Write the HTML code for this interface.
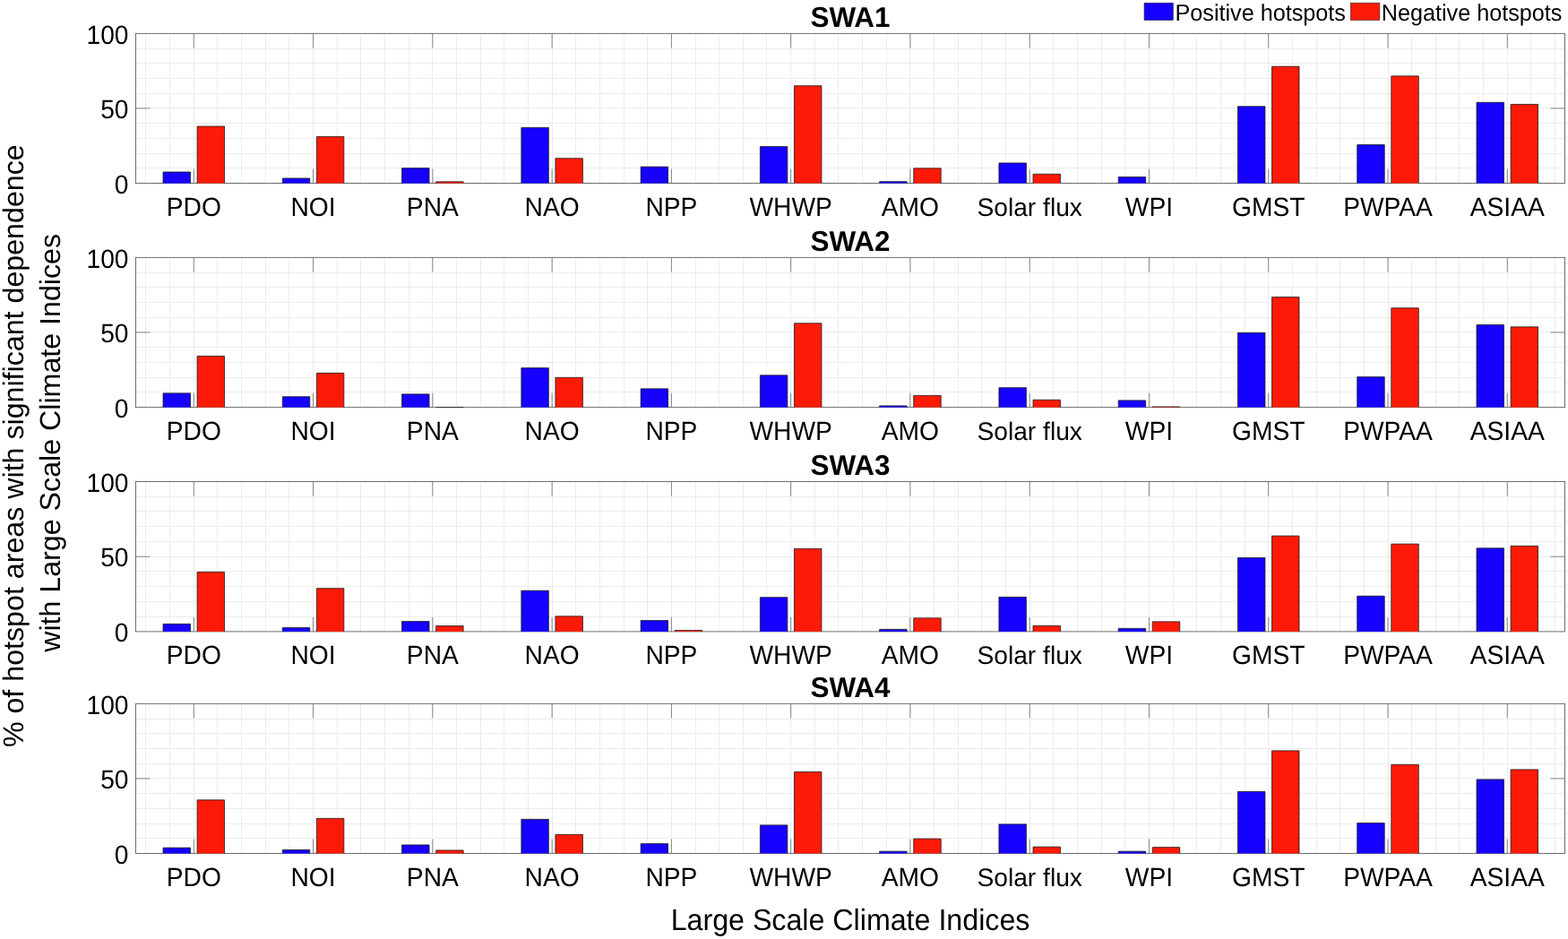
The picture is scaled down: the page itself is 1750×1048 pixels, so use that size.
<!DOCTYPE html>
<html><head><meta charset="utf-8"><title>SWA hotspots</title>
<style>
html,body{margin:0;padding:0;background:#fff;}
body{width:1750px;height:1048px;overflow:hidden;}
svg{display:block;}
text{font-family:'Liberation Sans', Arial, Helvetica, sans-serif;fill:#000;text-rendering:geometricPrecision;}
.tk{font-size:28.2px;}
.ti{font-size:31.4px;font-weight:bold;}
.lg{font-size:25.2px;}
.al{font-size:32.2px;}
</style></head><body>
<svg width="1750" height="1048" viewBox="0 0 1750 1048">
<rect width="1750" height="1048" fill="#fff"/>
<path d="M162.50 37.40V204.50M189.50 37.40V204.50M216.50 37.40V204.50M242.50 37.40V204.50M269.50 37.40V204.50M296.50 37.40V204.50M322.50 37.40V204.50M349.50 37.40V204.50M376.50 37.40V204.50M402.50 37.40V204.50M429.50 37.40V204.50M456.50 37.40V204.50M482.50 37.40V204.50M509.50 37.40V204.50M536.50 37.40V204.50M562.50 37.40V204.50M589.50 37.40V204.50M616.50 37.40V204.50M642.50 37.40V204.50M669.50 37.40V204.50M696.50 37.40V204.50M722.50 37.40V204.50M749.50 37.40V204.50M776.50 37.40V204.50M802.50 37.40V204.50M829.50 37.40V204.50M855.50 37.40V204.50M882.50 37.40V204.50M909.50 37.40V204.50M935.50 37.40V204.50M962.50 37.40V204.50M989.50 37.40V204.50M1015.50 37.40V204.50M1042.50 37.40V204.50M1069.50 37.40V204.50M1095.50 37.40V204.50M1122.50 37.40V204.50M1149.50 37.40V204.50M1175.50 37.40V204.50M1202.50 37.40V204.50M1229.50 37.40V204.50M1255.50 37.40V204.50M1282.50 37.40V204.50M1309.50 37.40V204.50M1335.50 37.40V204.50M1362.50 37.40V204.50M1389.50 37.40V204.50M1415.50 37.40V204.50M1442.50 37.40V204.50M1469.50 37.40V204.50M1495.50 37.40V204.50M1522.50 37.40V204.50M1549.50 37.40V204.50M1575.50 37.40V204.50M1602.50 37.40V204.50M1628.50 37.40V204.50M1655.50 37.40V204.50M1682.50 37.40V204.50M1708.50 37.40V204.50M1735.50 37.40V204.50M151.50 187.50H1746.50M151.50 171.50H1746.50M151.50 154.50H1746.50M151.50 137.50H1746.50M151.50 120.50H1746.50M151.50 104.50H1746.50M151.50 87.50H1746.50M151.50 70.50H1746.50M151.50 54.50H1746.50" stroke="#ececec" stroke-width="1" fill="none"/>
<path d="M216.30 204.50V188.50M216.30 37.40V53.40M349.57 204.50V188.50M349.57 37.40V53.40M482.84 204.50V188.50M482.84 37.40V53.40M616.11 204.50V188.50M616.11 37.40V53.40M749.38 204.50V188.50M749.38 37.40V53.40M882.65 204.50V188.50M882.65 37.40V53.40M1015.92 204.50V188.50M1015.92 37.40V53.40M1149.19 204.50V188.50M1149.19 37.40V53.40M1282.46 204.50V188.50M1282.46 37.40V53.40M1415.73 204.50V188.50M1415.73 37.40V53.40M1549.00 204.50V188.50M1549.00 37.40V53.40M1682.27 204.50V188.50M1682.27 37.40V53.40M151.50 120.95H167.50M1746.50 120.95H1730.50" stroke="#838383" stroke-width="1" fill="none"/>
<rect x="151.5" y="37.4" width="1595.0" height="167.1" stroke="#6e6e6e" stroke-width="1" fill="none"/>
<rect x="182.03" y="191.97" width="30.46" height="12.53" fill="#1600ff"/><rect x="220.11" y="141.00" width="30.46" height="63.50" fill="#ff1a08"/><rect x="315.30" y="198.99" width="30.46" height="5.51" fill="#1600ff"/><rect x="353.38" y="152.53" width="30.46" height="51.97" fill="#ff1a08"/><rect x="448.57" y="187.62" width="30.46" height="16.88" fill="#1600ff"/><rect x="486.65" y="202.83" width="30.46" height="1.67" fill="#ff1a08"/><rect x="581.84" y="142.34" width="30.46" height="62.16" fill="#1600ff"/><rect x="619.92" y="176.76" width="30.46" height="27.74" fill="#ff1a08"/><rect x="715.11" y="186.12" width="30.46" height="18.38" fill="#1600ff"/><rect x="848.38" y="163.56" width="30.46" height="40.94" fill="#1600ff"/><rect x="886.46" y="95.72" width="30.46" height="108.78" fill="#ff1a08"/><rect x="981.65" y="202.66" width="30.46" height="1.84" fill="#1600ff"/><rect x="1019.73" y="187.79" width="30.46" height="16.71" fill="#ff1a08"/><rect x="1114.92" y="181.94" width="30.46" height="22.56" fill="#1600ff"/><rect x="1153.00" y="194.31" width="30.46" height="10.19" fill="#ff1a08"/><rect x="1248.19" y="197.48" width="30.46" height="7.02" fill="#1600ff"/><rect x="1381.46" y="118.78" width="30.46" height="85.72" fill="#1600ff"/><rect x="1419.54" y="74.16" width="30.46" height="130.34" fill="#ff1a08"/><rect x="1514.73" y="161.56" width="30.46" height="42.94" fill="#1600ff"/><rect x="1552.81" y="84.86" width="30.46" height="119.64" fill="#ff1a08"/><rect x="1648.00" y="114.27" width="30.46" height="90.23" fill="#1600ff"/><rect x="1686.08" y="116.44" width="30.46" height="88.06" fill="#ff1a08"/>
<path d="M182.03 204.50V191.97H212.49V204.50M220.11 204.50V141.00H250.57V204.50M315.30 204.50V198.99H345.76V204.50M353.38 204.50V152.53H383.84V204.50M448.57 204.50V187.62H479.03V204.50M486.65 204.50V202.83H517.11V204.50M581.84 204.50V142.34H612.30V204.50M619.92 204.50V176.76H650.38V204.50M715.11 204.50V186.12H745.57V204.50M848.38 204.50V163.56H878.84V204.50M886.46 204.50V95.72H916.92V204.50M981.65 204.50V202.66H1012.11V204.50M1019.73 204.50V187.79H1050.19V204.50M1114.92 204.50V181.94H1145.38V204.50M1153.00 204.50V194.31H1183.46V204.50M1248.19 204.50V197.48H1278.65V204.50M1381.46 204.50V118.78H1411.92V204.50M1419.54 204.50V74.16H1450.00V204.50M1514.73 204.50V161.56H1545.19V204.50M1552.81 204.50V84.86H1583.27V204.50M1648.00 204.50V114.27H1678.46V204.50M1686.08 204.50V116.44H1716.54V204.50" stroke="#1a1a1a" stroke-width="0.8" fill="none"/>
<text transform="translate(143.50 215.60) scale(1 1.045)" text-anchor="end" class="tk">0</text>
<text transform="translate(143.50 132.05) scale(1 1.045)" text-anchor="end" class="tk">50</text>
<text transform="translate(143.50 48.50) scale(1 1.045)" text-anchor="end" class="tk">100</text>
<text transform="translate(216.30 240.50) scale(1 1.045)" text-anchor="middle" class="tk">PDO</text>
<text transform="translate(349.57 240.50) scale(1 1.045)" text-anchor="middle" class="tk">NOI</text>
<text transform="translate(482.84 240.50) scale(1 1.045)" text-anchor="middle" class="tk">PNA</text>
<text transform="translate(616.11 240.50) scale(1 1.045)" text-anchor="middle" class="tk">NAO</text>
<text transform="translate(749.38 240.50) scale(1 1.045)" text-anchor="middle" class="tk">NPP</text>
<text transform="translate(882.65 240.50) scale(1 1.045)" text-anchor="middle" class="tk">WHWP</text>
<text transform="translate(1015.92 240.50) scale(1 1.045)" text-anchor="middle" class="tk">AMO</text>
<text x="1149.19" y="240.50" text-anchor="middle" class="tk">Solar flux</text>
<text transform="translate(1282.46 240.50) scale(1 1.045)" text-anchor="middle" class="tk">WPI</text>
<text transform="translate(1415.73 240.50) scale(1 1.045)" text-anchor="middle" class="tk">GMST</text>
<text transform="translate(1549.00 240.50) scale(1 1.045)" text-anchor="middle" class="tk">PWPAA</text>
<text transform="translate(1682.27 240.50) scale(1 1.045)" text-anchor="middle" class="tk">ASIAA</text>
<text transform="translate(949.00 30.10) scale(1 1.01)" text-anchor="middle" class="ti">SWA1</text>
<path d="M162.50 287.40V454.60M189.50 287.40V454.60M216.50 287.40V454.60M242.50 287.40V454.60M269.50 287.40V454.60M296.50 287.40V454.60M322.50 287.40V454.60M349.50 287.40V454.60M376.50 287.40V454.60M402.50 287.40V454.60M429.50 287.40V454.60M456.50 287.40V454.60M482.50 287.40V454.60M509.50 287.40V454.60M536.50 287.40V454.60M562.50 287.40V454.60M589.50 287.40V454.60M616.50 287.40V454.60M642.50 287.40V454.60M669.50 287.40V454.60M696.50 287.40V454.60M722.50 287.40V454.60M749.50 287.40V454.60M776.50 287.40V454.60M802.50 287.40V454.60M829.50 287.40V454.60M855.50 287.40V454.60M882.50 287.40V454.60M909.50 287.40V454.60M935.50 287.40V454.60M962.50 287.40V454.60M989.50 287.40V454.60M1015.50 287.40V454.60M1042.50 287.40V454.60M1069.50 287.40V454.60M1095.50 287.40V454.60M1122.50 287.40V454.60M1149.50 287.40V454.60M1175.50 287.40V454.60M1202.50 287.40V454.60M1229.50 287.40V454.60M1255.50 287.40V454.60M1282.50 287.40V454.60M1309.50 287.40V454.60M1335.50 287.40V454.60M1362.50 287.40V454.60M1389.50 287.40V454.60M1415.50 287.40V454.60M1442.50 287.40V454.60M1469.50 287.40V454.60M1495.50 287.40V454.60M1522.50 287.40V454.60M1549.50 287.40V454.60M1575.50 287.40V454.60M1602.50 287.40V454.60M1628.50 287.40V454.60M1655.50 287.40V454.60M1682.50 287.40V454.60M1708.50 287.40V454.60M1735.50 287.40V454.60M151.50 437.50H1746.50M151.50 421.50H1746.50M151.50 404.50H1746.50M151.50 387.50H1746.50M151.50 370.50H1746.50M151.50 354.50H1746.50M151.50 337.50H1746.50M151.50 320.50H1746.50M151.50 304.50H1746.50" stroke="#ececec" stroke-width="1" fill="none"/>
<path d="M216.30 454.60V438.60M216.30 287.40V303.40M349.57 454.60V438.60M349.57 287.40V303.40M482.84 454.60V438.60M482.84 287.40V303.40M616.11 454.60V438.60M616.11 287.40V303.40M749.38 454.60V438.60M749.38 287.40V303.40M882.65 454.60V438.60M882.65 287.40V303.40M1015.92 454.60V438.60M1015.92 287.40V303.40M1149.19 454.60V438.60M1149.19 287.40V303.40M1282.46 454.60V438.60M1282.46 287.40V303.40M1415.73 454.60V438.60M1415.73 287.40V303.40M1549.00 454.60V438.60M1549.00 287.40V303.40M1682.27 454.60V438.60M1682.27 287.40V303.40M151.50 371.00H167.50M1746.50 371.00H1730.50" stroke="#838383" stroke-width="1" fill="none"/>
<rect x="151.5" y="287.4" width="1595.0" height="167.20000000000005" stroke="#6e6e6e" stroke-width="1" fill="none"/>
<rect x="182.03" y="438.90" width="30.46" height="15.70" fill="#1600ff"/><rect x="220.11" y="397.43" width="30.46" height="57.17" fill="#ff1a08"/><rect x="315.30" y="442.74" width="30.46" height="11.86" fill="#1600ff"/><rect x="353.38" y="416.33" width="30.46" height="38.27" fill="#ff1a08"/><rect x="448.57" y="439.90" width="30.46" height="14.70" fill="#1600ff"/><rect x="486.65" y="454.50" width="30.46" height="0.10" fill="#ff1a08"/><rect x="581.84" y="410.64" width="30.46" height="43.96" fill="#1600ff"/><rect x="619.92" y="421.34" width="30.46" height="33.26" fill="#ff1a08"/><rect x="715.11" y="433.88" width="30.46" height="20.72" fill="#1600ff"/><rect x="848.38" y="418.83" width="30.46" height="35.77" fill="#1600ff"/><rect x="886.46" y="360.82" width="30.46" height="93.78" fill="#ff1a08"/><rect x="981.65" y="452.94" width="30.46" height="1.66" fill="#1600ff"/><rect x="1019.73" y="441.41" width="30.46" height="13.19" fill="#ff1a08"/><rect x="1114.92" y="432.71" width="30.46" height="21.89" fill="#1600ff"/><rect x="1153.00" y="446.26" width="30.46" height="8.34" fill="#ff1a08"/><rect x="1248.19" y="446.92" width="30.46" height="7.68" fill="#1600ff"/><rect x="1286.27" y="453.95" width="30.46" height="0.65" fill="#ff1a08"/><rect x="1381.46" y="371.35" width="30.46" height="83.25" fill="#1600ff"/><rect x="1419.54" y="331.56" width="30.46" height="123.04" fill="#ff1a08"/><rect x="1514.73" y="420.67" width="30.46" height="33.93" fill="#1600ff"/><rect x="1552.81" y="343.76" width="30.46" height="110.84" fill="#ff1a08"/><rect x="1648.00" y="362.49" width="30.46" height="92.11" fill="#1600ff"/><rect x="1686.08" y="364.83" width="30.46" height="89.77" fill="#ff1a08"/>
<path d="M182.03 454.60V438.90H212.49V454.60M220.11 454.60V397.43H250.57V454.60M315.30 454.60V442.74H345.76V454.60M353.38 454.60V416.33H383.84V454.60M448.57 454.60V439.90H479.03V454.60M486.65 454.60V454.50H517.11V454.60M581.84 454.60V410.64H612.30V454.60M619.92 454.60V421.34H650.38V454.60M715.11 454.60V433.88H745.57V454.60M848.38 454.60V418.83H878.84V454.60M886.46 454.60V360.82H916.92V454.60M981.65 454.60V452.94H1012.11V454.60M1019.73 454.60V441.41H1050.19V454.60M1114.92 454.60V432.71H1145.38V454.60M1153.00 454.60V446.26H1183.46V454.60M1248.19 454.60V446.92H1278.65V454.60M1286.27 454.60V453.95H1316.73V454.60M1381.46 454.60V371.35H1411.92V454.60M1419.54 454.60V331.56H1450.00V454.60M1514.73 454.60V420.67H1545.19V454.60M1552.81 454.60V343.76H1583.27V454.60M1648.00 454.60V362.49H1678.46V454.60M1686.08 454.60V364.83H1716.54V454.60" stroke="#1a1a1a" stroke-width="0.8" fill="none"/>
<text transform="translate(143.50 465.70) scale(1 1.045)" text-anchor="end" class="tk">0</text>
<text transform="translate(143.50 382.10) scale(1 1.045)" text-anchor="end" class="tk">50</text>
<text transform="translate(143.50 298.50) scale(1 1.045)" text-anchor="end" class="tk">100</text>
<text transform="translate(216.30 490.60) scale(1 1.045)" text-anchor="middle" class="tk">PDO</text>
<text transform="translate(349.57 490.60) scale(1 1.045)" text-anchor="middle" class="tk">NOI</text>
<text transform="translate(482.84 490.60) scale(1 1.045)" text-anchor="middle" class="tk">PNA</text>
<text transform="translate(616.11 490.60) scale(1 1.045)" text-anchor="middle" class="tk">NAO</text>
<text transform="translate(749.38 490.60) scale(1 1.045)" text-anchor="middle" class="tk">NPP</text>
<text transform="translate(882.65 490.60) scale(1 1.045)" text-anchor="middle" class="tk">WHWP</text>
<text transform="translate(1015.92 490.60) scale(1 1.045)" text-anchor="middle" class="tk">AMO</text>
<text x="1149.19" y="490.60" text-anchor="middle" class="tk">Solar flux</text>
<text transform="translate(1282.46 490.60) scale(1 1.045)" text-anchor="middle" class="tk">WPI</text>
<text transform="translate(1415.73 490.60) scale(1 1.045)" text-anchor="middle" class="tk">GMST</text>
<text transform="translate(1549.00 490.60) scale(1 1.045)" text-anchor="middle" class="tk">PWPAA</text>
<text transform="translate(1682.27 490.60) scale(1 1.045)" text-anchor="middle" class="tk">ASIAA</text>
<text transform="translate(949.00 280.10) scale(1 1.01)" text-anchor="middle" class="ti">SWA2</text>
<path d="M162.50 537.50V704.90M189.50 537.50V704.90M216.50 537.50V704.90M242.50 537.50V704.90M269.50 537.50V704.90M296.50 537.50V704.90M322.50 537.50V704.90M349.50 537.50V704.90M376.50 537.50V704.90M402.50 537.50V704.90M429.50 537.50V704.90M456.50 537.50V704.90M482.50 537.50V704.90M509.50 537.50V704.90M536.50 537.50V704.90M562.50 537.50V704.90M589.50 537.50V704.90M616.50 537.50V704.90M642.50 537.50V704.90M669.50 537.50V704.90M696.50 537.50V704.90M722.50 537.50V704.90M749.50 537.50V704.90M776.50 537.50V704.90M802.50 537.50V704.90M829.50 537.50V704.90M855.50 537.50V704.90M882.50 537.50V704.90M909.50 537.50V704.90M935.50 537.50V704.90M962.50 537.50V704.90M989.50 537.50V704.90M1015.50 537.50V704.90M1042.50 537.50V704.90M1069.50 537.50V704.90M1095.50 537.50V704.90M1122.50 537.50V704.90M1149.50 537.50V704.90M1175.50 537.50V704.90M1202.50 537.50V704.90M1229.50 537.50V704.90M1255.50 537.50V704.90M1282.50 537.50V704.90M1309.50 537.50V704.90M1335.50 537.50V704.90M1362.50 537.50V704.90M1389.50 537.50V704.90M1415.50 537.50V704.90M1442.50 537.50V704.90M1469.50 537.50V704.90M1495.50 537.50V704.90M1522.50 537.50V704.90M1549.50 537.50V704.90M1575.50 537.50V704.90M1602.50 537.50V704.90M1628.50 537.50V704.90M1655.50 537.50V704.90M1682.50 537.50V704.90M1708.50 537.50V704.90M1735.50 537.50V704.90M151.50 688.50H1746.50M151.50 671.50H1746.50M151.50 654.50H1746.50M151.50 637.50H1746.50M151.50 621.50H1746.50M151.50 604.50H1746.50M151.50 587.50H1746.50M151.50 570.50H1746.50M151.50 554.50H1746.50" stroke="#ececec" stroke-width="1" fill="none"/>
<path d="M216.30 704.90V688.90M216.30 537.50V553.50M349.57 704.90V688.90M349.57 537.50V553.50M482.84 704.90V688.90M482.84 537.50V553.50M616.11 704.90V688.90M616.11 537.50V553.50M749.38 704.90V688.90M749.38 537.50V553.50M882.65 704.90V688.90M882.65 537.50V553.50M1015.92 704.90V688.90M1015.92 537.50V553.50M1149.19 704.90V688.90M1149.19 537.50V553.50M1282.46 704.90V688.90M1282.46 537.50V553.50M1415.73 704.90V688.90M1415.73 537.50V553.50M1549.00 704.90V688.90M1549.00 537.50V553.50M1682.27 704.90V688.90M1682.27 537.50V553.50M151.50 621.20H167.50M1746.50 621.20H1730.50" stroke="#838383" stroke-width="1" fill="none"/>
<rect x="151.5" y="537.5" width="1595.0" height="167.39999999999998" stroke="#6e6e6e" stroke-width="1" fill="none"/>
<rect x="182.03" y="696.35" width="30.46" height="8.55" fill="#1600ff"/><rect x="220.11" y="638.42" width="30.46" height="66.48" fill="#ff1a08"/><rect x="315.30" y="700.53" width="30.46" height="4.37" fill="#1600ff"/><rect x="353.38" y="656.67" width="30.46" height="48.23" fill="#ff1a08"/><rect x="448.57" y="693.50" width="30.46" height="11.40" fill="#1600ff"/><rect x="486.65" y="698.52" width="30.46" height="6.38" fill="#ff1a08"/><rect x="581.84" y="659.18" width="30.46" height="45.72" fill="#1600ff"/><rect x="619.92" y="687.81" width="30.46" height="17.09" fill="#ff1a08"/><rect x="715.11" y="692.50" width="30.46" height="12.40" fill="#1600ff"/><rect x="753.19" y="703.54" width="30.46" height="1.36" fill="#ff1a08"/><rect x="848.38" y="666.72" width="30.46" height="38.18" fill="#1600ff"/><rect x="886.46" y="612.31" width="30.46" height="92.59" fill="#ff1a08"/><rect x="981.65" y="702.37" width="30.46" height="2.53" fill="#1600ff"/><rect x="1019.73" y="689.82" width="30.46" height="15.08" fill="#ff1a08"/><rect x="1114.92" y="666.38" width="30.46" height="38.52" fill="#1600ff"/><rect x="1153.00" y="698.35" width="30.46" height="6.55" fill="#ff1a08"/><rect x="1248.19" y="701.37" width="30.46" height="3.53" fill="#1600ff"/><rect x="1286.27" y="693.83" width="30.46" height="11.07" fill="#ff1a08"/><rect x="1381.46" y="622.52" width="30.46" height="82.38" fill="#1600ff"/><rect x="1419.54" y="598.08" width="30.46" height="106.82" fill="#ff1a08"/><rect x="1514.73" y="665.21" width="30.46" height="39.69" fill="#1600ff"/><rect x="1552.81" y="607.12" width="30.46" height="97.78" fill="#ff1a08"/><rect x="1648.00" y="611.81" width="30.46" height="93.09" fill="#1600ff"/><rect x="1686.08" y="609.30" width="30.46" height="95.60" fill="#ff1a08"/>
<path d="M182.03 704.90V696.35H212.49V704.90M220.11 704.90V638.42H250.57V704.90M315.30 704.90V700.53H345.76V704.90M353.38 704.90V656.67H383.84V704.90M448.57 704.90V693.50H479.03V704.90M486.65 704.90V698.52H517.11V704.90M581.84 704.90V659.18H612.30V704.90M619.92 704.90V687.81H650.38V704.90M715.11 704.90V692.50H745.57V704.90M753.19 704.90V703.54H783.65V704.90M848.38 704.90V666.72H878.84V704.90M886.46 704.90V612.31H916.92V704.90M981.65 704.90V702.37H1012.11V704.90M1019.73 704.90V689.82H1050.19V704.90M1114.92 704.90V666.38H1145.38V704.90M1153.00 704.90V698.35H1183.46V704.90M1248.19 704.90V701.37H1278.65V704.90M1286.27 704.90V693.83H1316.73V704.90M1381.46 704.90V622.52H1411.92V704.90M1419.54 704.90V598.08H1450.00V704.90M1514.73 704.90V665.21H1545.19V704.90M1552.81 704.90V607.12H1583.27V704.90M1648.00 704.90V611.81H1678.46V704.90M1686.08 704.90V609.30H1716.54V704.90" stroke="#1a1a1a" stroke-width="0.8" fill="none"/>
<text transform="translate(143.50 716.00) scale(1 1.045)" text-anchor="end" class="tk">0</text>
<text transform="translate(143.50 632.30) scale(1 1.045)" text-anchor="end" class="tk">50</text>
<text transform="translate(143.50 548.60) scale(1 1.045)" text-anchor="end" class="tk">100</text>
<text transform="translate(216.30 740.90) scale(1 1.045)" text-anchor="middle" class="tk">PDO</text>
<text transform="translate(349.57 740.90) scale(1 1.045)" text-anchor="middle" class="tk">NOI</text>
<text transform="translate(482.84 740.90) scale(1 1.045)" text-anchor="middle" class="tk">PNA</text>
<text transform="translate(616.11 740.90) scale(1 1.045)" text-anchor="middle" class="tk">NAO</text>
<text transform="translate(749.38 740.90) scale(1 1.045)" text-anchor="middle" class="tk">NPP</text>
<text transform="translate(882.65 740.90) scale(1 1.045)" text-anchor="middle" class="tk">WHWP</text>
<text transform="translate(1015.92 740.90) scale(1 1.045)" text-anchor="middle" class="tk">AMO</text>
<text x="1149.19" y="740.90" text-anchor="middle" class="tk">Solar flux</text>
<text transform="translate(1282.46 740.90) scale(1 1.045)" text-anchor="middle" class="tk">WPI</text>
<text transform="translate(1415.73 740.90) scale(1 1.045)" text-anchor="middle" class="tk">GMST</text>
<text transform="translate(1549.00 740.90) scale(1 1.045)" text-anchor="middle" class="tk">PWPAA</text>
<text transform="translate(1682.27 740.90) scale(1 1.045)" text-anchor="middle" class="tk">ASIAA</text>
<text transform="translate(949.00 530.20) scale(1 1.01)" text-anchor="middle" class="ti">SWA3</text>
<path d="M162.50 785.40V952.50M189.50 785.40V952.50M216.50 785.40V952.50M242.50 785.40V952.50M269.50 785.40V952.50M296.50 785.40V952.50M322.50 785.40V952.50M349.50 785.40V952.50M376.50 785.40V952.50M402.50 785.40V952.50M429.50 785.40V952.50M456.50 785.40V952.50M482.50 785.40V952.50M509.50 785.40V952.50M536.50 785.40V952.50M562.50 785.40V952.50M589.50 785.40V952.50M616.50 785.40V952.50M642.50 785.40V952.50M669.50 785.40V952.50M696.50 785.40V952.50M722.50 785.40V952.50M749.50 785.40V952.50M776.50 785.40V952.50M802.50 785.40V952.50M829.50 785.40V952.50M855.50 785.40V952.50M882.50 785.40V952.50M909.50 785.40V952.50M935.50 785.40V952.50M962.50 785.40V952.50M989.50 785.40V952.50M1015.50 785.40V952.50M1042.50 785.40V952.50M1069.50 785.40V952.50M1095.50 785.40V952.50M1122.50 785.40V952.50M1149.50 785.40V952.50M1175.50 785.40V952.50M1202.50 785.40V952.50M1229.50 785.40V952.50M1255.50 785.40V952.50M1282.50 785.40V952.50M1309.50 785.40V952.50M1335.50 785.40V952.50M1362.50 785.40V952.50M1389.50 785.40V952.50M1415.50 785.40V952.50M1442.50 785.40V952.50M1469.50 785.40V952.50M1495.50 785.40V952.50M1522.50 785.40V952.50M1549.50 785.40V952.50M1575.50 785.40V952.50M1602.50 785.40V952.50M1628.50 785.40V952.50M1655.50 785.40V952.50M1682.50 785.40V952.50M1708.50 785.40V952.50M1735.50 785.40V952.50M151.50 935.50H1746.50M151.50 919.50H1746.50M151.50 902.50H1746.50M151.50 885.50H1746.50M151.50 868.50H1746.50M151.50 852.50H1746.50M151.50 835.50H1746.50M151.50 818.50H1746.50M151.50 802.50H1746.50" stroke="#ececec" stroke-width="1" fill="none"/>
<path d="M216.30 952.50V936.50M216.30 785.40V801.40M349.57 952.50V936.50M349.57 785.40V801.40M482.84 952.50V936.50M482.84 785.40V801.40M616.11 952.50V936.50M616.11 785.40V801.40M749.38 952.50V936.50M749.38 785.40V801.40M882.65 952.50V936.50M882.65 785.40V801.40M1015.92 952.50V936.50M1015.92 785.40V801.40M1149.19 952.50V936.50M1149.19 785.40V801.40M1282.46 952.50V936.50M1282.46 785.40V801.40M1415.73 952.50V936.50M1415.73 785.40V801.40M1549.00 952.50V936.50M1549.00 785.40V801.40M1682.27 952.50V936.50M1682.27 785.40V801.40M151.50 868.95H167.50M1746.50 868.95H1730.50" stroke="#838383" stroke-width="1" fill="none"/>
<rect x="151.5" y="785.4" width="1595.0" height="167.10000000000002" stroke="#6e6e6e" stroke-width="1" fill="none"/>
<rect x="182.03" y="946.15" width="30.46" height="6.35" fill="#1600ff"/><rect x="220.11" y="892.85" width="30.46" height="59.65" fill="#ff1a08"/><rect x="315.30" y="948.49" width="30.46" height="4.01" fill="#1600ff"/><rect x="353.38" y="913.40" width="30.46" height="39.10" fill="#ff1a08"/><rect x="448.57" y="942.98" width="30.46" height="9.52" fill="#1600ff"/><rect x="486.65" y="948.99" width="30.46" height="3.51" fill="#ff1a08"/><rect x="581.84" y="914.40" width="30.46" height="38.10" fill="#1600ff"/><rect x="619.92" y="931.45" width="30.46" height="21.05" fill="#ff1a08"/><rect x="715.11" y="941.64" width="30.46" height="10.86" fill="#1600ff"/><rect x="848.38" y="920.92" width="30.46" height="31.58" fill="#1600ff"/><rect x="886.46" y="861.43" width="30.46" height="91.07" fill="#ff1a08"/><rect x="981.65" y="950.16" width="30.46" height="2.34" fill="#1600ff"/><rect x="1019.73" y="936.12" width="30.46" height="16.38" fill="#ff1a08"/><rect x="1114.92" y="919.92" width="30.46" height="32.58" fill="#1600ff"/><rect x="1153.00" y="945.15" width="30.46" height="7.35" fill="#ff1a08"/><rect x="1248.19" y="950.16" width="30.46" height="2.34" fill="#1600ff"/><rect x="1286.27" y="945.65" width="30.46" height="6.85" fill="#ff1a08"/><rect x="1381.46" y="883.49" width="30.46" height="69.01" fill="#1600ff"/><rect x="1419.54" y="837.87" width="30.46" height="114.63" fill="#ff1a08"/><rect x="1514.73" y="918.58" width="30.46" height="33.92" fill="#1600ff"/><rect x="1552.81" y="853.41" width="30.46" height="99.09" fill="#ff1a08"/><rect x="1648.00" y="869.95" width="30.46" height="82.55" fill="#1600ff"/><rect x="1686.08" y="858.92" width="30.46" height="93.58" fill="#ff1a08"/>
<path d="M182.03 952.50V946.15H212.49V952.50M220.11 952.50V892.85H250.57V952.50M315.30 952.50V948.49H345.76V952.50M353.38 952.50V913.40H383.84V952.50M448.57 952.50V942.98H479.03V952.50M486.65 952.50V948.99H517.11V952.50M581.84 952.50V914.40H612.30V952.50M619.92 952.50V931.45H650.38V952.50M715.11 952.50V941.64H745.57V952.50M848.38 952.50V920.92H878.84V952.50M886.46 952.50V861.43H916.92V952.50M981.65 952.50V950.16H1012.11V952.50M1019.73 952.50V936.12H1050.19V952.50M1114.92 952.50V919.92H1145.38V952.50M1153.00 952.50V945.15H1183.46V952.50M1248.19 952.50V950.16H1278.65V952.50M1286.27 952.50V945.65H1316.73V952.50M1381.46 952.50V883.49H1411.92V952.50M1419.54 952.50V837.87H1450.00V952.50M1514.73 952.50V918.58H1545.19V952.50M1552.81 952.50V853.41H1583.27V952.50M1648.00 952.50V869.95H1678.46V952.50M1686.08 952.50V858.92H1716.54V952.50" stroke="#1a1a1a" stroke-width="0.8" fill="none"/>
<text transform="translate(143.50 963.60) scale(1 1.045)" text-anchor="end" class="tk">0</text>
<text transform="translate(143.50 880.05) scale(1 1.045)" text-anchor="end" class="tk">50</text>
<text transform="translate(143.50 796.50) scale(1 1.045)" text-anchor="end" class="tk">100</text>
<text transform="translate(216.30 988.50) scale(1 1.045)" text-anchor="middle" class="tk">PDO</text>
<text transform="translate(349.57 988.50) scale(1 1.045)" text-anchor="middle" class="tk">NOI</text>
<text transform="translate(482.84 988.50) scale(1 1.045)" text-anchor="middle" class="tk">PNA</text>
<text transform="translate(616.11 988.50) scale(1 1.045)" text-anchor="middle" class="tk">NAO</text>
<text transform="translate(749.38 988.50) scale(1 1.045)" text-anchor="middle" class="tk">NPP</text>
<text transform="translate(882.65 988.50) scale(1 1.045)" text-anchor="middle" class="tk">WHWP</text>
<text transform="translate(1015.92 988.50) scale(1 1.045)" text-anchor="middle" class="tk">AMO</text>
<text x="1149.19" y="988.50" text-anchor="middle" class="tk">Solar flux</text>
<text transform="translate(1282.46 988.50) scale(1 1.045)" text-anchor="middle" class="tk">WPI</text>
<text transform="translate(1415.73 988.50) scale(1 1.045)" text-anchor="middle" class="tk">GMST</text>
<text transform="translate(1549.00 988.50) scale(1 1.045)" text-anchor="middle" class="tk">PWPAA</text>
<text transform="translate(1682.27 988.50) scale(1 1.045)" text-anchor="middle" class="tk">ASIAA</text>
<text transform="translate(949.00 778.10) scale(1 1.01)" text-anchor="middle" class="ti">SWA4</text>
<rect x="1277" y="3.2" width="32.3" height="19.4" fill="#1600ff" stroke="#333" stroke-width="0.6"/>
<text transform="translate(1311.50 22.60) scale(1 1.03)" text-anchor="start" class="lg">Positive hotspots</text>
<rect x="1507.3" y="3.2" width="32.6" height="19.4" fill="#ff1a08" stroke="#333" stroke-width="0.6"/>
<text transform="translate(1541.80 22.60) scale(1 1.03)" text-anchor="start" class="lg">Negative hotspots</text>
<text transform="translate(949.00 1037.90) scale(1 1.035)" text-anchor="middle" class="al">Large Scale Climate Indices</text>
<text transform="translate(26.4 497.7) rotate(-90)" text-anchor="middle" class="al">% of hotspot areas with significant dependence</text>
<text transform="translate(66.7 494.4) rotate(-90)" text-anchor="middle" class="al">with Large Scale Climate Indices</text>
</svg>
</body></html>
